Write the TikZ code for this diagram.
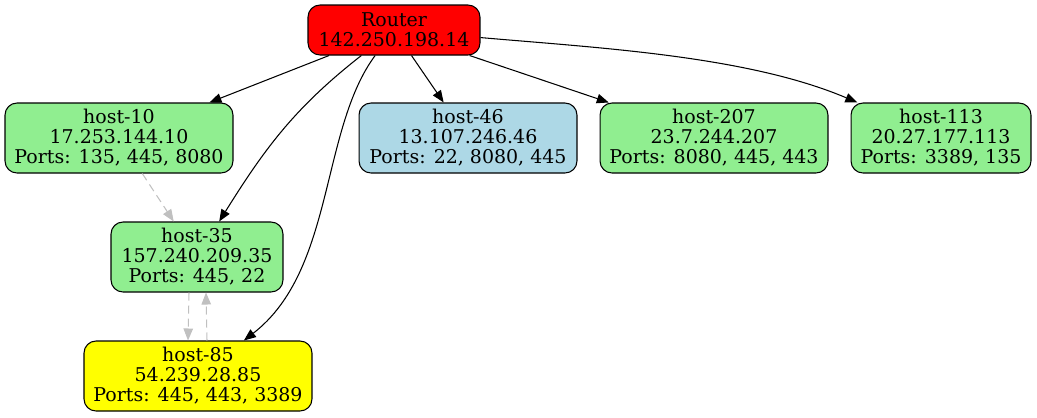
\documentclass[tikz,border=0pt]{standalone}
\usepackage{fontspec}
\setmainfont{DejaVu Serif}
\usepackage{tikz}
\usetikzlibrary{arrows.meta}
\definecolor{lightgreen}{HTML}{90EE90}
\definecolor{lightblue}{HTML}{ADD8E6}
\definecolor{silver}{HTML}{C0C0C0}
\definecolor{hostyellow}{HTML}{FFFF00}
\definecolor{hostred}{HTML}{FF0000}

\begin{document}
\begin{tikzpicture}[x=0.02cm, y=-0.02cm,
    box/.style={shape=rectangle, draw=black, line width=0.6pt, rounded corners=0.24cm,
        align=center, inner sep=0pt, minimum height=1.4cm,
        font=\fontsize{10.8}{11.4}\selectfont},
    link/.style={line width=0.6pt, -{Triangle[length=0.24cm, width=0.19cm]}},
    weak/.style={link, draw=silver, dash pattern=on 0.16cm off 0.1cm,
        -{Triangle[length=0.24cm, width=0.19cm, fill=silver]}}]

    \useasboundingbox (0,0) rectangle (1037,417);

    \node[box, fill=hostred, minimum width=3.44cm, minimum height=1cm] (router) at (394,30) {Router\\142.250.198.14};
    \node[box, fill=lightgreen, minimum width=4.56cm] (h10) at (119,138) {host-10\\17.253.144.10\\Ports: 135, 445, 8080};
    \node[box, fill=lightblue, minimum width=4.36cm] (h46) at (468,138) {host-46\\13.107.246.46\\Ports: 22, 8080, 445};
    \node[box, fill=lightgreen, minimum width=4.56cm] (h207) at (714,138) {host-207\\23.7.244.207\\Ports: 8080, 445, 443};
    \node[box, fill=lightgreen, minimum width=3.6cm] (h113) at (941,138) {host-113\\20.27.177.113\\Ports: 3389, 135};
    \node[box, fill=lightgreen, minimum width=3.44cm] (h35) at (197,257) {host-35\\157.240.209.35\\Ports: 445, 22};
    \node[box, fill=hostyellow, minimum width=4.56cm] (h85) at (198,376) {host-85\\54.239.28.85\\Ports: 445, 443, 3389};

    % router links
    \draw[link] (router) -- (h10);
    \draw[link] (router) to[out=-142, in=58] (h35);
    \draw[link] (router) .. controls (320,130) and (335,270) .. (h85);
    \draw[link] (router) -- (h46);
    \draw[link] (router) -- (h207);
    \draw[link] (router) to[out=-5, in=157, looseness=0.8] (h113);

    % lateral traffic
    \draw[weak] ([xshift=-0.16cm]h35.south) -- ([xshift=-0.2cm]h85.north);
    \draw[weak] ([xshift=0.18cm]h85.north) -- ([xshift=0.18cm]h35.south);
    \draw[weak] (h10) -- (h35);

\end{tikzpicture}
\end{document}
